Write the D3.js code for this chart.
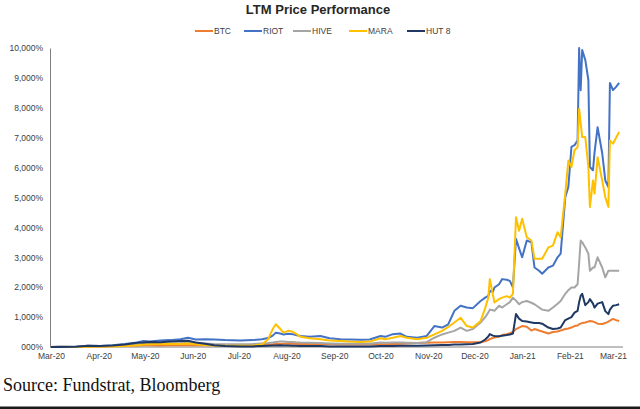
<!DOCTYPE html>
<html>
<head>
<meta charset="utf-8">
<script src="https://cdn.jsdelivr.net/npm/d3@7"></script>
<style>
  html, body { margin: 0; padding: 0; background: #fff; }
  svg { display: block; }
</style>
</head>
<body>
<svg id="chart" width="640" height="409"></svg>
<script>
// ---------- data ----------
const seriesNames = ["BTC", "RIOT", "HIVE", "MARA", "HUT 8"];
const seriesColors = ["#ED7D31", "#4472C4", "#A5A5A5", "#FFC000", "#1F3864"];
const yTicks = [0, 1000, 2000, 3000, 4000, 5000, 6000, 7000, 8000, 9000, 10000];
const yTickLabels = ["000%", "1,000%", "2,000%", "3,000%", "4,000%", "5,000%", "6,000%", "7,000%", "8,000%", "9,000%", "10,000%"];

const dates = [
  "2020-03-01","2020-03-07","2020-03-17","2020-03-25","2020-04-02","2020-04-10","2020-04-18","2020-04-26",
  "2020-04-30","2020-05-04","2020-05-11","2020-05-17","2020-05-24","2020-05-29","2020-06-03","2020-06-09",
  "2020-06-15","2020-06-22","2020-07-02","2020-07-10","2020-07-16","2020-07-20","2020-07-23","2020-07-25",
  "2020-07-28","2020-07-30","2020-08-02","2020-08-05","2020-08-07","2020-08-10","2020-08-16","2020-08-23",
  "2020-08-29","2020-09-05","2020-09-11","2020-09-18","2020-09-24","2020-10-01","2020-10-04","2020-10-09",
  "2020-10-14","2020-10-18","2020-10-25","2020-10-31","2020-11-05","2020-11-10","2020-11-14","2020-11-18",
  "2020-11-22","2020-11-26","2020-11-30","2020-12-05","2020-12-08","2020-12-10","2020-12-11","2020-12-13",
  "2020-12-14","2020-12-17","2020-12-19","2020-12-22","2020-12-24","2020-12-26","2020-12-28","2020-12-30",
  "2021-01-01","2021-01-04","2021-01-07","2021-01-09","2021-01-12","2021-01-14","2021-01-18","2021-01-21",
  "2021-01-24","2021-01-26","2021-01-29","2021-01-31","2021-02-02","2021-02-04","2021-02-06","2021-02-07",
  "2021-02-08","2021-02-09","2021-02-11","2021-02-13","2021-02-14","2021-02-16","2021-02-17","2021-02-19",
  "2021-02-22","2021-02-24","2021-02-26","2021-02-27","2021-03-01","2021-03-03","2021-03-05"
];

const btc = [
  0,5,0,20,20,30,40,50, 60,60,50,60,60,60,70,60, 60,50,50,60,70,80,90,100,
  100,110,110,110,110,100,100,100, 90,80,80,80,80,90,90,100, 110,120,130,140,150,150,160,170,
  170,160,160,170,190,230,270,300, 320,350,400,430,460,500,600,650,
  700,680,550,600,550,520,450,500, 520,550,600,620,650,700,720,760,
  780,800,820,850,870,850,830,780, 770,800,850,880,940,900,870
];
const riot = [
  0,10,5,40,30,60,100,150, 200,180,220,230,260,310,250,260, 250,230,220,230,260,300,380,480,
  450,420,440,430,400,370,340,370, 290,260,250,240,250,370,340,430, 450,340,310,370,700,650,760,1210,
  1380,1320,1300,1540,1650,1710,1880,1850, 1990,2100,2270,2250,2210,2000,3620,3300,
  3000,3560,3500,2660,2550,2450,2660,2720, 3000,3120,5010,5350,6690,6750,6910,10000,
  8590,9930,9600,8930,6020,5910,6500,7350, 6480,5570,5350,8830,8590,8700,8830
];
const hive = [
  0,5,0,20,30,40,60,80, 100,100,110,120,130,150,140,120, 100,90,90,100,120,130,150,170,
  180,180,170,170,160,150,140,130, 120,110,110,110,110,150,140,150, 150,140,130,160,310,420,480,540,
  650,540,600,820,1000,1150,1250,1230, 1210,1380,1320,1430,1500,1650,1550,1430,
  1500,1540,1480,1430,1320,1250,1210,1320, 1450,1540,1780,1900,1990,1990,2100,2800,
  3560,3500,3330,3120,2550,2660,2660,3000, 2660,2330,2550,2550,2550,2550,2550
];
const mara = [
  0,0,0,10,20,20,30,60, 80,90,100,110,100,120,90,70, 50,40,40,50,80,260,600,760,
  600,480,540,510,450,340,290,260, 220,200,180,170,180,290,260,310, 370,310,260,310,420,540,670,820,
  980,700,650,870,1300,1650,2270,1750, 1490,1600,1650,1700,1650,1780,4340,3890,
  4290,3670,3560,2950,2950,2950,3330,3390, 3840,3670,5130,6240,6020,6580,6690,7970,
  7500,7020,7020,6020,4680,5570,5130,6350, 5570,5010,4680,6910,6800,7000,7190
];
const hut8 = [
  0,0,5,40,30,50,80,140, 150,170,160,180,200,210,150,110, 60,30,20,20,30,40,50,50,
  60,50,50,40,40,30,30,30, 20,20,20,20,20,30,30,30, 40,40,40,50,60,70,70,80,
  80,90,100,150,250,350,430,380, 370,360,380,400,420,450,1100,950,
  870,850,820,800,800,780,650,600, 620,650,900,950,1000,1150,1210,1500,
  1710,1780,1400,1500,1600,1450,1320,1450, 1500,1200,1100,1250,1380,1400,1430
];
const seriesValues = [btc, riot, hive, mara, hut8];

// ---------- chart ----------
const svg = d3.select("#chart");
svg.append("rect").attr("width", 640).attr("height", 409).attr("fill", "#fff");

const parse = d3.timeParse("%Y-%m-%d");
const dateObjs = dates.map(parse);

const x = d3.scaleTime()
  .domain([parse("2020-03-01"), parse("2021-03-01")])
  .range([51, 613]);
const y = d3.scaleLinear().domain([0, 10000]).range([347, 48]);

const font = "'Liberation Sans', Arial, sans-serif";

// title
svg.append("text")
  .attr("x", 318).attr("y", 14)
  .attr("text-anchor", "middle")
  .attr("font-family", font).attr("font-weight", "bold").attr("font-size", 13)
  .attr("fill", "#262626")
  .text("LTM Price Performance");

// legend
const legendX = [195, 244, 293, 349, 407];
const legend = svg.append("g");
seriesNames.forEach((name, i) => {
  const g = legend.append("g").attr("transform", `translate(${legendX[i]},31)`);
  g.append("line").attr("x1", 0).attr("x2", 18).attr("y1", 0).attr("y2", 0)
    .attr("stroke", seriesColors[i]).attr("stroke-width", 2);
  g.append("text").attr("x", 19).attr("y", 3)
    .attr("font-family", font).attr("font-size", 8.5).attr("fill", "#404040")
    .text(name);
});

// y axis
const yAxis = d3.axisLeft(y)
  .tickValues(yTicks)
  .tickFormat((d, i) => yTickLabels[i])
  .tickSize(0).tickSizeOuter(0).tickPadding(7);
const gy = svg.append("g").attr("transform", "translate(50,0)").call(yAxis);
gy.select(".domain").attr("stroke", "#7f7f7f").attr("stroke-width", 1);
gy.selectAll("text").attr("font-family", font).attr("font-size", 8.5).attr("fill", "#404040");

// x axis
const xAxis = d3.axisBottom(x)
  .ticks(d3.timeMonth.every(1))
  .tickFormat(d3.timeFormat("%b-%y"))
  .tickSize(0).tickSizeOuter(0).tickPadding(6);
const gx = svg.append("g").attr("transform", "translate(0,347)").call(xAxis);
gx.select(".domain").remove();
gx.selectAll("text").attr("font-family", font).attr("font-size", 8.5).attr("fill", "#404040");
svg.append("line").attr("x1", 50).attr("x2", 623).attr("y1", 347).attr("y2", 347)
  .attr("stroke", "#7f7f7f").attr("stroke-width", 1);

// lines
const line = d3.line()
  .x((d, i) => x(dateObjs[i]))
  .y(d => y(d));
seriesValues.forEach((vals, i) => {
  svg.append("path")
    .datum(vals)
    .attr("d", line)
    .attr("fill", "none")
    .attr("stroke", seriesColors[i])
    .attr("stroke-width", 2)
    .attr("stroke-linejoin", "round");
});

// source note
svg.append("text")
  .attr("x", 3).attr("y", 391)
  .attr("font-family", "'Liberation Serif', 'Times New Roman', serif")
  .attr("font-size", 18).attr("fill", "#111")
  .text("Source: Fundstrat, Bloomberg");

// bottom rule
svg.append("rect").attr("x", 0).attr("y", 406.5).attr("width", 640).attr("height", 2.5).attr("fill", "#1a1a1a");
</script>
</body>
</html>
